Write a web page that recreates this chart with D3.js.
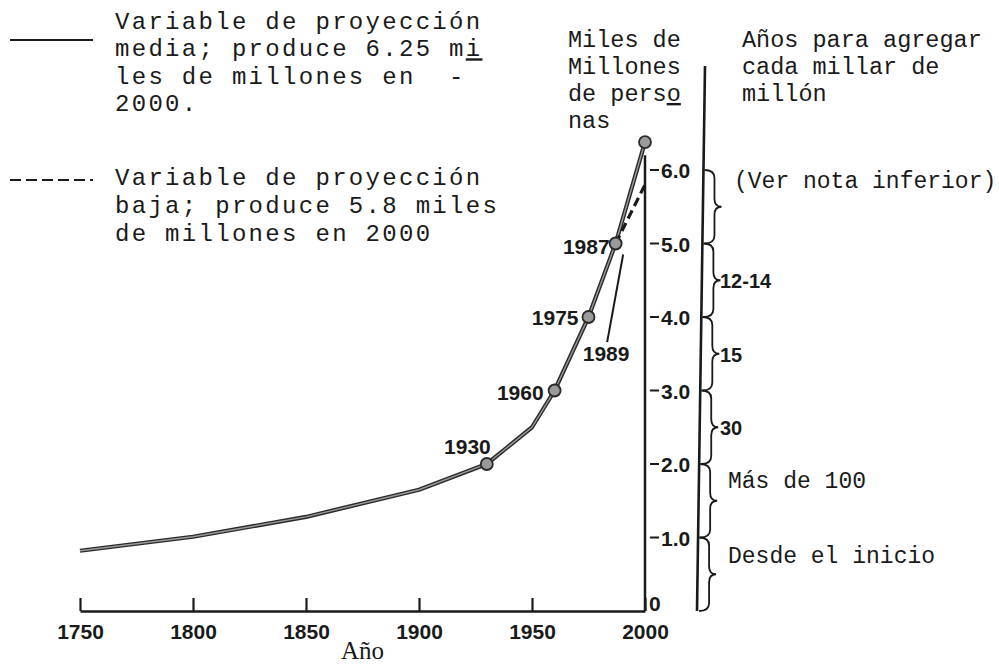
<!DOCTYPE html>
<html><head><meta charset="utf-8">
<script src="https://cdn.jsdelivr.net/npm/d3@7"></script>
<style>body{margin:0;background:#fff}svg{display:block}text{white-space:pre}</style>
</head><body>
<svg id="c" width="999" height="665"></svg>
<script>
// ---- data ----
const years = [1750, 1800, 1850, 1900, 1930, 1950, 1960, 1975, 1987, 2000];
const medium = [0.82, 1.01, 1.28, 1.65, 2.0, 2.5, 3.0, 4.0, 5.0, 6.38];
const lowYears = [1987, 2000];
const lowValues = [5.0, 5.8];
const markerYears = [1930, 1960, 1975, 1987, 2000];
const labelYears = [1930, 1960, 1975, 1987];
const xTicks = [1750, 1800, 1850, 1900, 1950, 2000];
const yTicks = [0, 1, 2, 3, 4, 5, 6];
const yTickLabels = ["0", "1.0", "2.0", "3.0", "4.0", "5.0", "6.0"];
const braceLevels = [0, 1, 2, 3, 4, 5, 6];
const braceLabels = ["Desde el inicio", "Más de 100", "30", "15", "12-14", "(Ver nota inferior)"];
const legendMedium = ["Variable de proyección", "media; produce 6.25 mi", "les de millones en  -", "2000."];
const legendLow = ["Variable de proyección", "baja; produce 5.8 miles", "de millones en 2000"];
const yTitle = ["Miles de", "Millones", "de perso", "nas"];
const braceTitle = ["Años para agregar", "cada millar de", "millón"];

// ---- setup ----
const svg = d3.select("#c");
const x = d3.scaleLinear().domain([1750, 2000]).range([80, 645]);
const y = d3.scaleLinear().domain([0, 6]).range([611, 170]);
const mono = "'Liberation Mono', 'DejaVu Sans Mono', monospace";
const sans = "'Liberation Sans', Arial, sans-serif";
const serif = "'Liberation Serif', 'DejaVu Serif', serif";
const ink = "#1a1a1a";

// x axis
const xAxis = d3.axisBottom(x).tickValues(xTicks).tickSize(0).tickFormat(d3.format("d")).tickPadding(13);
const gx = svg.append("g").attr("transform", `translate(0,${y(0)})`).call(xAxis);
gx.select(".domain").attr("stroke", ink).attr("stroke-width", 2.5);
gx.selectAll(".tick text").attr("font-family", sans).attr("font-size", 21).attr("font-weight", "bold").attr("fill", ink);
gx.selectAll(".tick").append("line").attr("y1", 0).attr("y2", -13).attr("stroke", ink).attr("stroke-width", 2.2);

// y axis (vertical line at 2000)
svg.append("line").attr("x1", x(2000)).attr("x2", x(2000)).attr("y1", y(0)).attr("y2", y(6.2))
  .attr("stroke", ink).attr("stroke-width", 2.5);
const gy = svg.append("g");
yTicks.forEach((v, i) => {
  if (v > 0) {
    gy.append("line").attr("x1", x(2000) + 5).attr("x2", x(2000) + 14).attr("y1", y(v)).attr("y2", y(v))
      .attr("stroke", ink).attr("stroke-width", 2);
  }
  gy.append("text").attr("x", v > 0 ? x(2000) + 16 : x(2000) + 4).attr("y", y(v) + (v > 0 ? 8 : 0))
    .attr("font-family", sans).attr("font-size", 21).attr("font-weight", "bold").attr("fill", ink)
    .text(yTickLabels[i]);
});

// axis title
svg.append("text").attr("x", (x(1750) + x(2000)) / 2).attr("y", 659).attr("text-anchor", "middle")
  .attr("font-family", serif).attr("font-size", 25).attr("fill", ink).text("Año");

// ---- curves ----
const line = d3.line().x(d => x(d[0])).y(d => y(d[1]));
const medPts = years.map((yr, i) => [yr, medium[i]]);
svg.append("path").attr("d", line(medPts)).attr("fill", "none").attr("stroke", "#2a2a2a").attr("stroke-width", 4.2).attr("stroke-linejoin", "round");
svg.append("path").attr("d", line(medPts)).attr("fill", "none").attr("stroke", "#9a9a9a").attr("stroke-width", 1.4);
const lowPts = lowYears.map((yr, i) => [yr, lowValues[i]]);
svg.append("path").attr("d", line(lowPts)).attr("fill", "none").attr("stroke", ink).attr("stroke-width", 3.2).attr("stroke-dasharray", "9,5");

// markers
const valAt = yr => medium[years.indexOf(yr)];
svg.selectAll("circle.m").data(markerYears).join("circle").attr("class", "m")
  .attr("cx", d => x(d)).attr("cy", d => y(valAt(d))).attr("r", 6)
  .attr("fill", "#9a9a9a").attr("stroke", "#2a2a2a").attr("stroke-width", 1.8);

// year labels
const labelOffsets = {1930: [4, -10], 1960: [-11, 9], 1975: [-10, 8], 1987: [-6, 10]};
labelYears.forEach(yr => {
  const o = labelOffsets[yr];
  svg.append("text").attr("x", x(yr) + o[0]).attr("y", y(valAt(yr)) + o[1]).attr("text-anchor", "end")
    .attr("font-family", sans).attr("font-size", 21).attr("font-weight", "bold").attr("fill", ink).text(yr);
});
// 1989 label with pointer
svg.append("text").attr("x", x(1989) - 14).attr("y", y(3.4)).attr("text-anchor", "middle")
  .attr("font-family", sans).attr("font-size", 21).attr("font-weight", "bold").attr("fill", ink).text("1989");
svg.append("line").attr("x1", x(1989) - 13).attr("y1", y(3.4) - 19).attr("x2", x(1989) + 3).attr("y2", y(4.85))
  .attr("stroke", ink).attr("stroke-width", 2);

// ---- legend ----
const lg = svg.append("g").attr("font-family", mono).attr("fill", ink);
svg.append("line").attr("x1", 10).attr("x2", 93).attr("y1", 40).attr("y2", 40).attr("stroke", ink).attr("stroke-width", 2);
legendMedium.forEach((t, i) => {
  const tx = lg.append("text").attr("x", 115).attr("y", 29 + i * 27.3).attr("font-size", 24).attr("letter-spacing", 2.3);
  if (i === 1) {
    tx.append("tspan").text(t.slice(0, -1));
    tx.append("tspan").attr("text-decoration", "underline").text(t.slice(-1));
  } else tx.text(t);
});
svg.append("line").attr("x1", 10).attr("x2", 93).attr("y1", 180).attr("y2", 180).attr("stroke", ink).attr("stroke-width", 2).attr("stroke-dasharray", "11,5");
legendLow.forEach((t, i) => {
  lg.append("text").attr("x", 115).attr("y", 185 + i * 27.8).attr("font-size", 24).attr("letter-spacing", 2.3).text(t);
});

// y title
yTitle.forEach((t, i) => {
  const tx = lg.append("text").attr("x", 568).attr("y", 47 + i * 27).attr("font-size", 23.5);
  if (i === 2) {
    tx.append("tspan").text(t.slice(0, -1));
    tx.append("tspan").attr("text-decoration", "underline").text(t.slice(-1));
  } else tx.text(t);
});

// ---- brace scale ----
svg.append("line").attr("x1", 705).attr("y1", 66).attr("x2", 697).attr("y2", y(0))
  .attr("stroke", ink).attr("stroke-width", 2.6);
braceTitle.forEach((t, i) => lg.append("text").attr("x", 742).attr("y", 47 + i * 27).attr("font-size", 23.5).text(t));

function brace(y1, y2, x0) {
  const a = x0 + 10, c = x0 + 17, ym = (y1 + y2) / 2, r = 8;
  return `M${x0},${y1} Q${a},${y1} ${a},${y1 + r} L${a},${ym - r} Q${a},${ym} ${c},${ym} Q${a},${ym} ${a},${ym + r} L${a},${y2 - r} Q${a},${y2} ${x0},${y2}`;
}
const bg = svg.append("g");
for (let i = 0; i < braceLevels.length - 1; i++) {
  const top = y(braceLevels[i + 1]), bot = y(braceLevels[i]);
  const xl = 705 - (top - 66) / (y(0) - 66) * 8 + 1;
  bg.append("path").attr("d", brace(top, bot, xl)).attr("fill", "none").attr("stroke", ink).attr("stroke-width", 1.8);
}
// brace labels
const braceLabelPos = [[728, 0.76, "mono"], [728, 1.78, "mono"], [720, 2.5, "sans"], [720, 3.5, "sans"], [720, 4.5, "sans"], [734, 5.86, "mono"]];
braceLabels.forEach((t, i) => {
  const p = braceLabelPos[i];
  const el = svg.append("text").attr("x", p[0]).attr("y", y(p[1]) + 8).attr("fill", ink).text(t);
  if (p[2] === "mono") el.attr("font-family", mono).attr("font-size", 23);
  else el.attr("font-family", sans).attr("font-size", 20).attr("font-weight", "bold");
});
</script>
</body></html>
